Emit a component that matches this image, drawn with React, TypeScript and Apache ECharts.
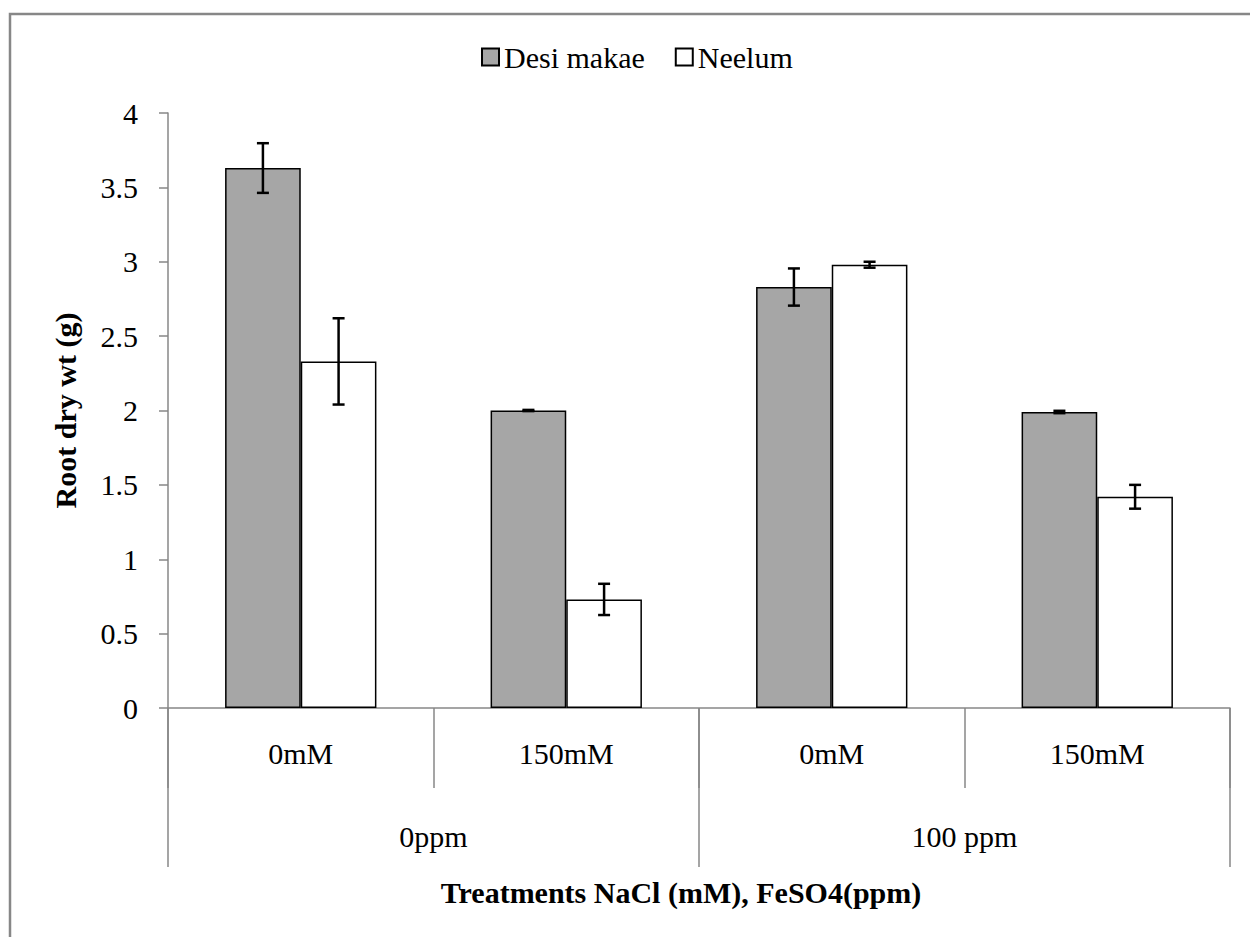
import React, { useEffect, useRef } from "react";
import * as echarts from "echarts";

const categories = ["0mM", "150mM", "0mM", "150mM"];
const groups = ["0ppm", "100 ppm"];
const seriesNames = ["Desi makae", "Neelum"];
const desi = [3.63, 2.0, 2.83, 1.99];
const desiErr = [0.167, 0.004, 0.125, 0.008];
const neelum = [2.33, 0.73, 2.98, 1.42];
const neelumErr = [0.29, 0.105, 0.02, 0.08];
const yMin = 0;
const yMax = 4;
const yInterval = 0.5;
const xTitle = "Treatments NaCl (mM), FeSO4(ppm)";
const yTitle = "Root dry wt (g)";

const FONT = "'Liberation Serif', 'Times New Roman', Times, serif";
const CAT_GAP = 0.43;

function errorSeries(values: number[], errs: number[], side: number) {
  return {
    type: "custom",
    xAxisIndex: 0,
    yAxisIndex: 0,
    z: 10,
    silent: true,
    data: values.map((v, i) => [i, v, errs[i]]),
    renderItem: (params: any, api: any) => {
      const i = api.value(0);
      const v = api.value(1);
      const e = api.value(2);
      const band = api.size([1, 0])[0];
      const barW = (band * (1 - CAT_GAP)) / 2;
      const top = api.coord([i, v + e]);
      const bot = api.coord([i, v - e]);
      const x = top[0] + side * barW / 2;
      const cap = 6;
      const style = { stroke: "#000", lineWidth: 2.5 };
      return {
        type: "group",
        children: [
          { type: "line", shape: { x1: x, y1: top[1], x2: x, y2: bot[1] }, style },
          { type: "line", shape: { x1: x - cap, y1: top[1], x2: x + cap, y2: top[1] }, style },
          { type: "line", shape: { x1: x - cap, y1: bot[1], x2: x + cap, y2: bot[1] }, style },
        ],
      };
    },
  };
}

export default function App() {
  const ref = useRef<HTMLDivElement>(null);
  useEffect(() => {
    if (!ref.current) return;
    const chart = echarts.init(ref.current, null, { renderer: "svg" });
    const gray = "#878787";
    chart.setOption({
      animation: false,
      backgroundColor: "#fff",
      textStyle: { fontFamily: FONT },
      graphic: [
        {
          type: "rect",
          z: -10,
          shape: { x: 10, y: 14, width: 1260, height: 960 },
          style: { fill: "none", stroke: gray, lineWidth: 2.5 },
        },
        {
          type: "text",
          x: 681,
          y: 892,
          style: {
            text: xTitle,
            fontFamily: FONT,
            fontSize: 30,
            fontWeight: "bold",
            fill: "#000",
            align: "center",
            verticalAlign: "middle",
          },
        },
      ],
      legend: {
        data: seriesNames,
        left: 476,
        top: 37,
        icon: "rect",
        itemWidth: 17,
        itemHeight: 17,
        itemGap: 30,
        textStyle: { fontFamily: FONT, fontSize: 30, color: "#000" },
      },
      grid: { left: 168, right: 20, top: 113, bottom: 229, containLabel: false },
      xAxis: [
        {
          type: "category",
          data: categories,
          position: "bottom",
          axisLine: { show: true, lineStyle: { color: gray, width: 1.5 } },
          axisTick: { show: true, alignWithLabel: false, interval: 0, length: 80, lineStyle: { color: gray, width: 1.5 } },
          axisLabel: { interval: 0, margin: 30, fontFamily: FONT, fontSize: 30, color: "#000" },
        },
        {
          type: "category",
          data: groups,
          position: "bottom",
          axisLine: { show: false },
          axisTick: { show: true, alignWithLabel: false, interval: 0, length: 159, lineStyle: { color: gray, width: 1.5 } },
          axisLabel: { interval: 0, margin: 113, fontFamily: FONT, fontSize: 30, color: "#000" },
        },
      ],
      yAxis: {
        type: "value",
        min: yMin,
        max: yMax,
        interval: yInterval,
        splitLine: { show: false },
        axisLine: { show: true, lineStyle: { color: gray, width: 1.5 } },
        axisTick: { show: true, length: 9, lineStyle: { color: gray, width: 1.5 } },
        axisLabel: { margin: 30, fontFamily: FONT, fontSize: 30, color: "#000" },
        name: yTitle,
        nameLocation: "middle",
        nameGap: 88,
        nameTextStyle: { fontFamily: FONT, fontSize: 30, fontWeight: "bold", color: "#000" },
      },
      series: [
        {
          name: seriesNames[0],
          type: "bar",
          data: desi,
          barGap: "0%",
          barCategoryGap: CAT_GAP * 100 + "%",
          itemStyle: { color: "#a6a6a6", borderColor: "#000", borderWidth: 1.5 },
        },
        {
          name: seriesNames[1],
          type: "bar",
          data: neelum,
          barGap: "0%",
          barCategoryGap: CAT_GAP * 100 + "%",
          itemStyle: { color: "#fff", borderColor: "#000", borderWidth: 1.5 },
        },
        errorSeries(desi, desiErr, -1),
        errorSeries(neelum, neelumErr, 1),
      ],
    });
    return () => chart.dispose();
  }, []);
  return (
    <div
      ref={ref}
      style={{ position: "absolute", left: 0, top: 0, width: 1250, height: 937 }}
    />
  );
}
